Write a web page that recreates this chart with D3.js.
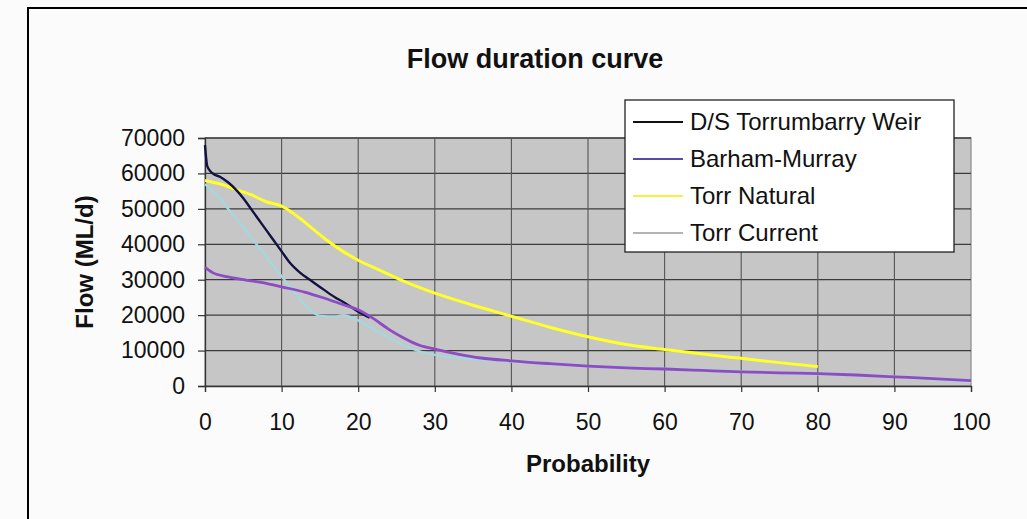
<!DOCTYPE html>
<html lang="en">
<head>
<meta charset="UTF-8">
<title>Flow duration curve</title>
<script src="https://cdn.jsdelivr.net/npm/d3@7/dist/d3.min.js"></script>
<style>
  body { margin: 0; background: #fbfbfb; }
  text { font-family: "Liberation Sans", Arial, sans-serif; fill: #111; }
</style>
</head>
<body>
<svg width="1027" height="519" id="mainsvg"></svg>
<script>
// data
const seriesNames = ["D/S Torrumbarry Weir", "Barham-Murray", "Torr Natural", "Torr Current"];
const xTicks = [0, 10, 20, 30, 40, 50, 60, 70, 80, 90, 100];
const yTicks = [0, 10000, 20000, 30000, 40000, 50000, 60000, 70000];

const dsProb = [0, 0.3, 1, 2, 3, 4, 5, 6, 7, 8, 9, 10, 11, 12.4, 14, 15.5, 17, 18, 20, 21.5];
const dsFlow = [68000, 62000, 60000, 59000, 57500, 55500, 53000, 50000, 47000, 44000, 41000, 38000, 35000, 32000, 29500, 27200, 25000, 23800, 21000, 19300];

const bmProb = [0, 1, 3, 5, 8, 10, 13, 15, 18, 20, 22, 24, 26, 28, 30, 33, 36, 40, 45, 50, 55, 60, 65, 70, 75, 80, 85, 90, 95, 100];
const bmFlow = [33500, 32000, 30800, 30000, 29000, 28000, 26500, 25200, 23000, 21500, 19000, 16000, 13500, 11500, 10400, 9000, 7900, 7100, 6300, 5600, 5100, 4800, 4400, 4000, 3700, 3500, 3100, 2600, 2100, 1500];

const tnProb = [0, 2, 4, 6, 8, 10, 12, 14, 16, 18, 20, 23, 26, 30, 35, 40, 45, 50, 55, 60, 65, 70, 75, 80];
const tnFlow = [58000, 57000, 55500, 54000, 52000, 50800, 48000, 44500, 41000, 38000, 35500, 32500, 29500, 26200, 22800, 19700, 16600, 13900, 11700, 10300, 9000, 7800, 6600, 5500];

const tcProb = [0, 1, 2, 3, 4.2, 6, 8, 10, 12, 14, 15, 17, 18, 20, 22, 25, 28, 30, 35, 40, 45, 50, 55, 60, 65, 70, 75, 80, 85, 90, 95, 100];
const tcFlow = [57000, 55000, 53000, 50000, 47000, 42000, 36500, 31000, 25500, 21000, 19800, 19600, 20000, 18500, 16000, 12500, 9800, 8800, 7600, 6900, 6200, 5600, 5200, 4900, 4500, 4100, 3700, 3300, 3000, 2600, 1900, 1200];

const lineColors = ["#141240", "#8c4cc4", "#ffff2a", "#a6d6de"];
const lineWidths = [2.4, 2.8, 3, 2.4];
const legendColors = ["#111", "#5a4ca6", "#f2f23c", "#9a9a9a"];

const svg = d3.select('#mainsvg');
const width = +svg.attr('width');
const height = +svg.attr('height');
const margin = { top: 138, left: 205, right: width - 971, bottom: height - 386 };
const innerWidth = width - margin.left - margin.right;
const innerHeight = height - margin.top - margin.bottom;

// chart-area frame: only its left and top sides fall inside the picture
svg.append('path').attr('d', `M28,${height}V8H${width}`)
  .attr('fill', 'none').attr('stroke', '#000').attr('stroke-width', 2);

const g = svg.append('g').attr('transform', `translate(${margin.left}, ${margin.top})`);

const xScale = d3.scaleLinear().domain([0, 100]).range([0, innerWidth]);
const yScale = d3.scaleLinear().domain([0, 70000]).range([innerHeight, 0]);

g.append('rect').attr('width', innerWidth).attr('height', innerHeight)
  .attr('fill', '#c6c6c6').attr('stroke', '#8a8a8a').attr('stroke-width', 1.2);

// gridlines
g.append('g').selectAll('line').data(yTicks.slice(1)).join('line')
  .attr('x1', 0).attr('x2', innerWidth)
  .attr('y1', d => yScale(d)).attr('y2', d => yScale(d))
  .attr('stroke', '#3c3c3c').attr('stroke-width', 1.3);
g.append('g').selectAll('line').data(xTicks.slice(1, -1)).join('line')
  .attr('y1', 0).attr('y2', innerHeight)
  .attr('x1', d => xScale(d)).attr('x2', d => xScale(d))
  .attr('stroke', '#555').attr('stroke-width', 1.1);

// axes
const yAxis = d3.axisLeft(yScale).tickValues(yTicks).tickFormat(d3.format('d')).tickSize(7).tickPadding(13);
const xAxis = d3.axisBottom(xScale).tickValues(xTicks).tickFormat(d3.format('d')).tickSize(6).tickPadding(22);
const ya = g.append('g').call(yAxis);
const xa = g.append('g').attr('transform', `translate(0, ${innerHeight})`).call(xAxis);
[ya, xa].forEach(a => {
  a.select('.domain').attr('stroke', '#333').attr('stroke-width', 1.3);
  a.selectAll('.tick line').attr('stroke', '#333').attr('stroke-width', 1.2);
  a.selectAll('.tick text').attr('font-size', 23).attr('fill', '#111')
    .style('font-family', '"Liberation Sans", Arial, sans-serif');
});

// lines
const series = [
  { prob: tcProb, flow: tcFlow, i: 3 },
  { prob: tnProb, flow: tnFlow, i: 2 },
  { prob: dsProb, flow: dsFlow, i: 0 },
  { prob: bmProb, flow: bmFlow, i: 1 }
];
const line = d3.line().x(d => xScale(d[0])).y(d => yScale(d[1])).curve(d3.curveMonotoneX);
series.forEach(s => {
  g.append('path').datum(s.prob.map((p, k) => [p, s.flow[k]]))
    .attr('d', line).attr('fill', 'none')
    .attr('stroke', lineColors[s.i]).attr('stroke-width', lineWidths[s.i])
    .attr('stroke-linejoin', 'round');
});

// titles
svg.append('text').attr('x', 535).attr('y', 68).attr('text-anchor', 'middle')
  .attr('font-size', 27).attr('font-weight', 'bold').text('Flow duration curve');
svg.append('text').attr('x', margin.left + innerWidth / 2).attr('y', 472).attr('text-anchor', 'middle')
  .attr('font-size', 24).attr('font-weight', 'bold').text('Probability');
svg.append('text').attr('transform', `translate(93, ${margin.top + innerHeight / 2}) rotate(-90)`)
  .attr('text-anchor', 'middle').attr('font-size', 24).attr('font-weight', 'bold').text('Flow (ML/d)');

// legend
const legend = svg.append('g').attr('transform', 'translate(625, 100)');
legend.append('rect').attr('width', 329).attr('height', 152)
  .attr('fill', '#fff').attr('stroke', '#222').attr('stroke-width', 1.3);
const rows = legend.selectAll('.row').data(seriesNames).join('g')
  .attr('class', 'row').attr('transform', (d, i) => `translate(0, ${22 + i * 37})`);
rows.append('line').attr('x1', 8).attr('x2', 58).attr('y1', 0).attr('y2', 0)
  .attr('stroke', (d, i) => legendColors[i]).attr('stroke-width', (d, i) => i === 3 ? 1.5 : 2.2);
rows.append('text').attr('x', 65).attr('dy', '0.35em').attr('font-size', 24).text(d => d);
</script>
</body>
</html>
